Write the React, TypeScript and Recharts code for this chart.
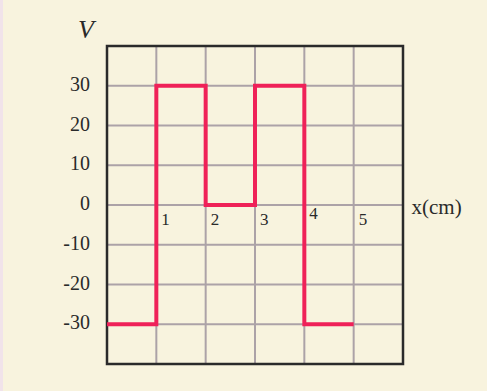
import React from 'react';
import { LineChart, Line, XAxis, YAxis, CartesianGrid, ReferenceArea, ReferenceDot } from 'recharts';

// square wave: potential (V) against position x (cm)
const positions = [0, 1, 2, 3, 4, 5];
const voltages = [-30, 30, 0, 30, -30, -30];
const xTicks = [0, 1, 2, 3, 4, 5, 6];
const xTickLabels = [1, 2, 3, 4, 5];
const yTicks = [-40, -30, -20, -10, 0, 10, 20, 30, 40];
const yTickLabels = [-30, -20, -10, 0, 10, 20, 30];

const SERIF = '"Liberation Serif", "Times New Roman", serif';
const INK = '#2a2a2a';

const data = positions.map((x, i) => ({ x, v: voltages[i] }));

const YTick: React.FC<any> = ({ x, y, payload }) => {
  if (!yTickLabels.includes(payload.value)) return null;
  return (
    <text x={x} y={y} dy={5} textAnchor="end" fontFamily={SERIF} fontSize={20} fill={INK}>
      {payload.value}
    </text>
  );
};

// the x ticks only feed the grid; their numbers are drawn next to the zero line
const NoTick: React.FC<any> = () => <g />;

const xLabel = (text: string, dy: number) => (props: any) => {
  const { viewBox } = props;
  return (
    <text x={viewBox.x + 5} y={viewBox.y + dy} fontFamily={SERIF} fontSize={17} fill={INK}>
      {text}
    </text>
  );
};

const axisName = (text: string, dx: number, dy: number, italic = false, size = 21) => (props: any) => {
  const { viewBox } = props;
  return (
    <text
      x={viewBox.x + dx}
      y={viewBox.y + dy}
      fontFamily={SERIF}
      fontSize={size}
      fontStyle={italic ? 'italic' : 'normal'}
      fill={INK}
    >
      {text}
    </text>
  );
};

export default function App() {
  return (
    <div
      style={{
        position: 'fixed',
        left: 0,
        top: 0,
        width: 487,
        height: 391,
        background: '#f8f3de',
        borderLeft: '3px solid #f1e3ea',
        boxSizing: 'border-box',
      }}
    >
      <LineChart
        width={484}
        height={391}
        data={data}
        margin={{ top: 46, right: 84, bottom: 27, left: 44 }}
      >
        <CartesianGrid stroke="#aca2a7" strokeWidth={2} />
        <XAxis
          dataKey="x"
          type="number"
          domain={[0, 6]}
          ticks={xTicks}
          tick={<NoTick />}
          axisLine={false}
          tickLine={false}
          height={0}
        />
        <YAxis
          type="number"
          domain={[-40, 40]}
          ticks={yTicks}
          tick={<YTick />}
          axisLine={false}
          tickLine={false}
          tickSize={0}
          tickMargin={17}
          width={60}
        />
        <ReferenceArea
          x1={0}
          x2={6}
          y1={-40}
          y2={40}
          fill="none"
          stroke={INK}
          strokeWidth={2.5}
          ifOverflow="visible"
        />
        <Line
          type="stepAfter"
          dataKey="v"
          stroke="#ef2158"
          strokeWidth={4}
          strokeLinejoin="miter"
          dot={false}
          activeDot={false}
          isAnimationActive={false}
        />
        {xTickLabels.map((t) => (
          <ReferenceDot
            key={t}
            x={t}
            y={0}
            r={0}
            fill="none"
            stroke="none"
            label={{ content: xLabel(String(t), t === 4 ? 14 : 20) }}
          />
        ))}
        <ReferenceDot
          x={6}
          y={0}
          r={0}
          fill="none"
          stroke="none"
          label={{ content: axisName('x(cm)', 8.5, 9) }}
        />
        <ReferenceDot
          x={0}
          y={40}
          r={0}
          fill="none"
          stroke="none"
          label={{ content: axisName('V', -29, -8, true, 26) }}
        />
      </LineChart>
    </div>
  );
}
